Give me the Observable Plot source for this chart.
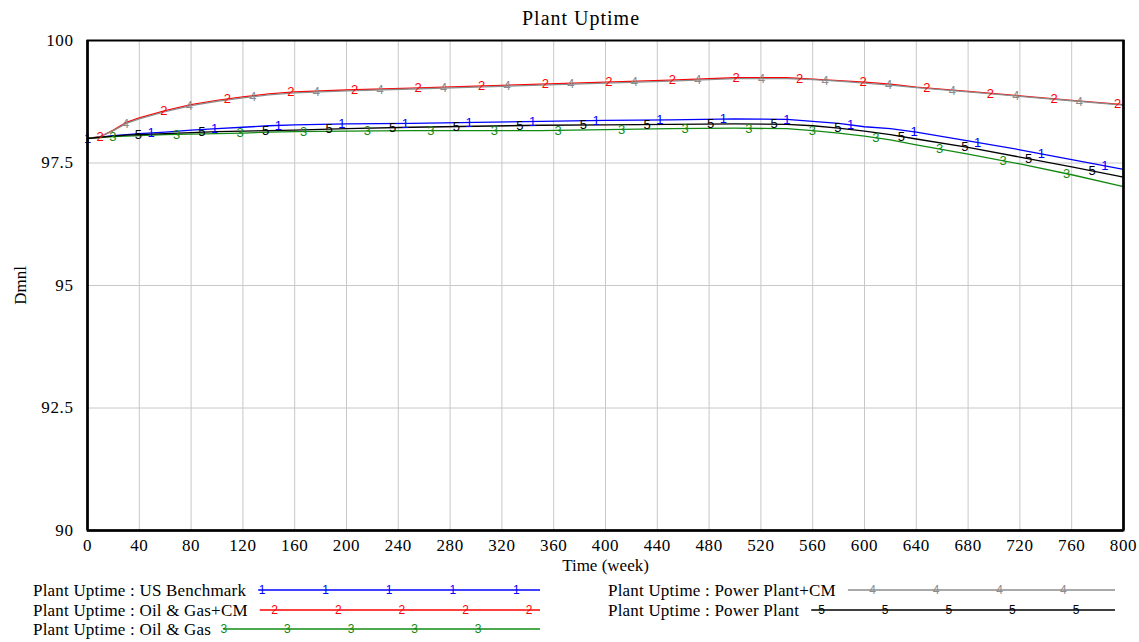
<!DOCTYPE html>
<html>
<head>
<meta charset="utf-8">
<script src="https://cdn.jsdelivr.net/npm/d3@7"></script>
<script src="https://cdn.jsdelivr.net/npm/@observablehq/plot@0.6"></script>
<style>
  html, body { margin: 0; padding: 0; background: #fff; }
  #wrap { position: relative; width: 1139px; height: 642px; font-family: "Liberation Serif", "Times New Roman", serif; }
  #title { position: absolute; top: 6px; left: 581px; transform: translateX(-50%); font-size: 20px; letter-spacing: 1px; white-space: nowrap; line-height: 24px; }
  #chart { position: absolute; top: 30px; left: 0; }
  #legend { position: absolute; top: 580px; left: 0; }
  #chart svg g[aria-label="x-axis tick label"] text,
  #chart svg g[aria-label="y-axis tick label"] text { letter-spacing: 0.6px; }
</style>
</head>
<body>
<div id="wrap">
  <div id="title">Plant Uptime</div>
  <div id="chart"></div>
  <div id="legend"></div>
</div>
<script>
// ---- data ----
const times = [0, 10, 20, 30, 40, 60, 80, 100, 120, 140, 160, 200, 250, 300, 350, 400, 450, 500, 540, 560, 580, 600, 620, 640, 680, 720, 760, 800];

const usBenchmark = [98.0, 98.03, 98.06, 98.08, 98.10, 98.13, 98.17, 98.20, 98.23, 98.26, 98.28, 98.30, 98.31, 98.33, 98.35, 98.37, 98.38, 98.40, 98.39, 98.35, 98.31, 98.24, 98.20, 98.13, 97.95, 97.77, 97.57, 97.37];
const oilGasCM    = [98.0, 98.04, 98.17, 98.33, 98.42, 98.57, 98.69, 98.78, 98.85, 98.91, 98.95, 98.99, 99.03, 99.07, 99.11, 99.15, 99.19, 99.24, 99.24, 99.21, 99.18, 99.15, 99.11, 99.05, 98.96, 98.87, 98.78, 98.69];
const oilGas      = [98.0, 98.02, 98.04, 98.05, 98.06, 98.08, 98.09, 98.10, 98.11, 98.13, 98.14, 98.15, 98.16, 98.16, 98.16, 98.18, 98.20, 98.21, 98.20, 98.16, 98.11, 98.05, 97.97, 97.87, 97.68, 97.48, 97.26, 97.02];
const powerPlantCM= [98.0, 98.04, 98.16, 98.31, 98.40, 98.55, 98.67, 98.76, 98.83, 98.89, 98.93, 98.97, 99.01, 99.05, 99.09, 99.13, 99.17, 99.22, 99.22, 99.20, 99.17, 99.13, 99.09, 99.04, 98.95, 98.86, 98.77, 98.68];
const powerPlant  = [98.0, 98.03, 98.05, 98.07, 98.08, 98.10, 98.12, 98.14, 98.15, 98.16, 98.17, 98.20, 98.23, 98.25, 98.27, 98.28, 98.29, 98.30, 98.29, 98.26, 98.21, 98.15, 98.08, 97.99, 97.82, 97.62, 97.42, 97.21];

const seriesNames = ["Plant Uptime : US Benchmark", "Plant Uptime : Oil & Gas+CM", "Plant Uptime : Oil & Gas", "Plant Uptime : Power Plant+CM", "Plant Uptime : Power Plant"];
const seriesIds = ["1", "2", "3", "4", "5"];
const seriesColors = ["#0000ff", "#ff0000", "#128a12", "#8c8c8c", "#000000"];
const seriesValues = [usBenchmark, oilGasCM, oilGas, powerPlantCM, powerPlant];

const xTicks = [0, 40, 80, 120, 160, 200, 240, 280, 320, 360, 400, 440, 480, 520, 560, 600, 640, 680, 720, 760, 800];
const yTicks = [90, 92.5, 95, 97.5, 100];
const markerStep = 49.1; // weeks between number markers on each line

// ---- build tables ----
const rows = [];
seriesValues.forEach((vals, s) => {
  vals.forEach((v, i) => rows.push({series: s, t: times[i], v}));
});
function interp(vals, t) {
  for (let i = 0; i < times.length - 1; i++) {
    if (t >= times[i] && t <= times[i + 1]) {
      const f = (t - times[i]) / (times[i + 1] - times[i]);
      return vals[i] + f * (vals[i + 1] - vals[i]);
    }
  }
  return vals[vals.length - 1];
}
const markers = [];
seriesValues.forEach((vals, s) => {
  for (let t = s * markerStep / 5; t <= 800; t += markerStep) {
    markers.push({series: s, t, v: interp(vals, t), label: seriesIds[s]});
  }
});

const chart = Plot.plot({
  width: 1139,
  height: 550,
  marginLeft: 87,
  marginRight: 16,
  marginTop: 10,
  marginBottom: 50,
  style: {fontFamily: "Liberation Serif, serif", fontSize: "16px", background: "white", color: "black"},
  x: {domain: [0, 800]},
  y: {domain: [90, 100]},
  marks: [
    Plot.gridX(xTicks, {stroke: "#c8c8c8", strokeOpacity: 1, strokeWidth: 1}),
    Plot.gridY(yTicks, {stroke: "#c8c8c8", strokeOpacity: 1, strokeWidth: 1}),
    Plot.axisX(xTicks, {tickSize: 0, tickPadding: 8, fontSize: 17, label: "Time (week)", labelAnchor: "center", labelArrow: "none", labelOffset: 40}),
    Plot.axisY(yTicks, {tickSize: 0, tickPadding: 14, fontSize: 17, tickFormat: d => String(d), label: "Dmnl", labelAnchor: "center", labelArrow: "none", labelOffset: 74}),
    Plot.line(rows, {x: "t", y: "v", z: "series", stroke: d => seriesColors[d.series], strokeWidth: 1.3}),
    Plot.text(markers, {x: "t", y: "v", text: "label", fill: d => seriesColors[d.series], fontFamily: "Liberation Sans, Arial, sans-serif", fontSize: 13}),
    Plot.frame({stroke: "black", strokeWidth: 2}),
    Plot.ruleX([0, 800], {stroke: "black", strokeWidth: 2.5}),
    Plot.ruleY([90], {stroke: "black", strokeWidth: 2.5})
  ]
});
document.getElementById("chart").appendChild(chart);

// ---- legend ----
const lg = d3.select("#legend").append("svg").attr("width", 1139).attr("height", 62)
  .style("font-family", "Liberation Serif, serif");
const rowY = [10, 30, 49];
const colX = [33, 608];
const lineEnd = [540, 1115];
const legendStepPx = 63.6;
seriesNames.forEach((name, s) => {
  const col = s < 3 ? 0 : 1;
  const r = s < 3 ? s : s - 3;
  const y = rowY[r];
  const txt = lg.append("text").attr("x", colX[col]).attr("y", y).attr("dy", "0.35em")
    .attr("font-size", 17).attr("letter-spacing", "0.2px").attr("fill", "#000").text(name);
  const tEnd = colX[col] + txt.node().getComputedTextLength();
  const x0 = tEnd + 12, x1 = lineEnd[col];
  lg.append("line").attr("x1", x0).attr("x2", x1).attr("y1", y).attr("y2", y)
    .attr("stroke", seriesColors[s]).attr("stroke-width", 1.3);
  const phase = 7.6 + 12.7 * s;
  let k = Math.ceil((x0 - phase) / legendStepPx);
  for (let x = phase + k * legendStepPx; x <= x1 - 8; x += legendStepPx) {
    lg.append("text").attr("x", x).attr("y", y).attr("dy", "0.35em").attr("text-anchor", "middle")
      .attr("font-size", 12).attr("font-family", "Liberation Sans, Arial, sans-serif")
      .attr("fill", seriesColors[s]).text(seriesIds[s]);
  }
});
</script>
</body>
</html>
